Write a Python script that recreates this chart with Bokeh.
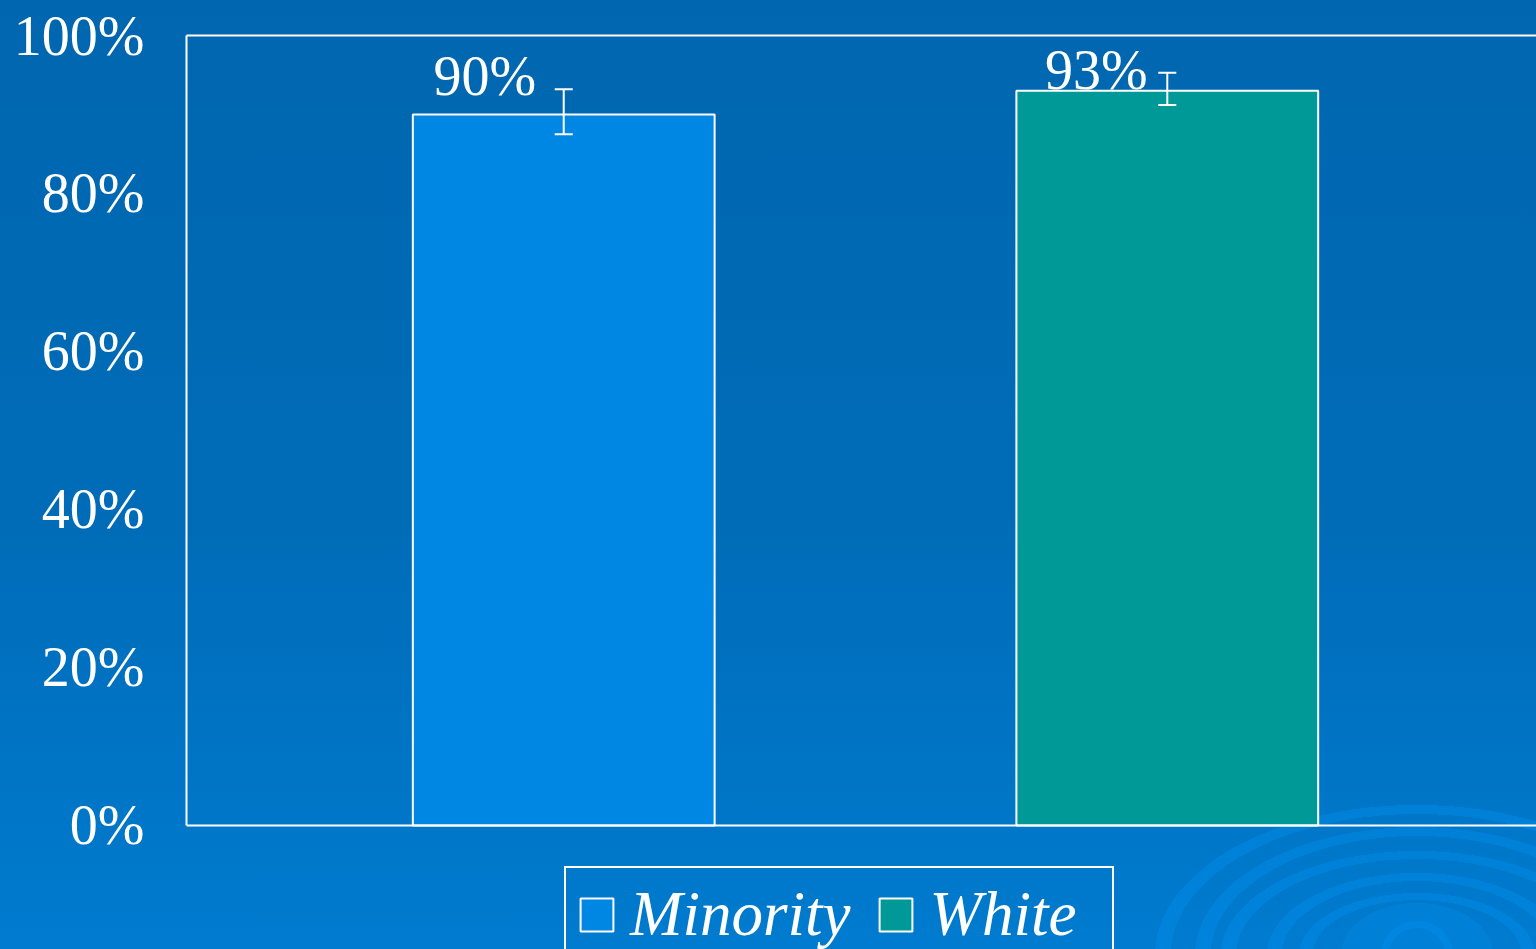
from bokeh.plotting import figure
from bokeh.models import (ColumnDataSource, Range1d, LinearAxis, FixedTicker,
                          NumeralTickFormatter, Whisker, TeeHead, LabelSet,
                          Legend, LegendItem, Span)
from bokeh.core.properties import value
from bokeh.embed import file_html
from bokeh.resources import INLINE

# ---- data -------------------------------------------------------------
groups = ["Minority", "White"]
shares = [0.90, 0.93]
ci_low = [0.875, 0.912]
ci_high = [0.932, 0.953]
bar_colors = ["#0087E3", "#009997"]
y_ticks = [0.0, 0.2, 0.4, 0.6, 0.8, 1.0]

# ---- styling ----------------------------------------------------------
FONT = "Liberation Serif"
WHITE = "#FFFFFF"
BAR_W = 1 / 4.5                    # one cluster spans 0..1
label_dx = [-79, -71]              # value-label nudges (px)
label_dy = [19, 2]

# bar centres: dodge each series around the cluster centre
xs = [0.5 + (i - (len(groups) - 1) / 2) * 2 * BAR_W for i in range(len(groups))]

# page background: blue gradient with a soft ripple in the lower right
ring_col = "rgba(0,142,236,0.42)"
rings = [(262, 150, 9), (222, 128, 9), (196, 104, 8), (150, 82, 8),
         (118, 62, 7), (36, 34, 7)]
layers = []
for rx, ry, t in rings:
    a = 100 * (ry - t) / ry
    layers.append(
        f"radial-gradient(ellipse {rx}px {ry}px at 1417px 955px, "
        f"transparent {a:.1f}%, {ring_col} {a:.1f}%, {ring_col} 100%, transparent 100%)")
layers.append("radial-gradient(ellipse 76px 52px at 1417px 955px, "
              "rgba(0,142,236,0.30) 100%, transparent 100%)")
layers.append("linear-gradient(180deg, #0066AF 0%, #006CB8 55%, #007BCF 100%)")

# the frame runs down to the page bottom so the legend can sit inside it;
# the value axis starts below zero to leave room for it
p = figure(width=1536, height=949, output_backend="svg", toolbar_location=None,
           x_range=Range1d(0, 0.9941), y_range=Range1d(-0.157, 1),
           x_axis_type=None, y_axis_type=None,
           min_border_left=186, min_border_right=0,
           min_border_top=35, min_border_bottom=0)
p.styles = {"background": ", ".join(layers)}
p.background_fill_alpha = 0
p.border_fill_alpha = 0
p.outline_line_color = None
p.xgrid.visible = False
p.ygrid.visible = False

# axes: left with percent labels (line only over 0..100%), top as frame line
yaxis = LinearAxis(ticker=FixedTicker(ticks=y_ticks),
                   formatter=NumeralTickFormatter(format="0%"), bounds=(0, 1))
yaxis.axis_line_color = WHITE
yaxis.axis_line_width = 2
yaxis.major_tick_line_color = None
yaxis.minor_tick_line_color = None
yaxis.major_label_text_color = WHITE
yaxis.major_label_text_font = FONT
yaxis.major_label_text_font_size = "56px"
yaxis.major_label_standoff = 36
p.add_layout(yaxis, "left")

top_axis = LinearAxis(ticker=FixedTicker(ticks=[]))
top_axis.axis_line_color = WHITE
top_axis.axis_line_width = 2
top_axis.major_tick_line_color = None
top_axis.minor_tick_line_color = None
top_axis.major_label_text_font_size = "0px"
p.add_layout(top_axis, "above")

# baseline at 0%
p.add_layout(Span(location=0, dimension="width", line_color=WHITE, line_width=2))

# bars
items = []
for i, g in enumerate(groups):
    src = ColumnDataSource(dict(x=[xs[i]], top=[shares[i]]))
    r = p.vbar(x="x", top="top", bottom=0, width=BAR_W, source=src,
               fill_color=bar_colors[i], line_color=WHITE, line_width=2)
    items.append(LegendItem(label=g, renderers=[r]))

# error bars
err = ColumnDataSource(dict(x=xs, lower=ci_low, upper=ci_high))
p.add_layout(Whisker(base="x", lower="lower", upper="upper", source=err,
                     level="overlay", line_color=WHITE, line_width=2,
                     upper_head=TeeHead(size=18, line_color=WHITE, line_width=2),
                     lower_head=TeeHead(size=18, line_color=WHITE, line_width=2)))

# value labels
lab = ColumnDataSource(dict(x=xs, y=shares,
                            text=[f"{v:.0%}" for v in shares],
                            dx=label_dx, dy=label_dy))
p.add_layout(LabelSet(x="x", y="y", text="text", source=lab,
                      x_offset="dx", y_offset="dy",
                      text_align="center", text_baseline="alphabetic",
                      text_color=WHITE, text_font=value(FONT),
                      text_font_size=value("56px")))

# legend under the baseline
legend = Legend(items=items, orientation="horizontal", location=(378, -14))
legend.background_fill_alpha = 0
legend.border_line_color = WHITE
legend.border_line_width = 2
legend.border_line_alpha = 1
legend.padding = 10
legend.margin = 0
legend.spacing = 25
legend.glyph_width = 41
legend.glyph_height = 41
legend.label_standoff = 13
legend.label_width = 173
legend.label_text_font = FONT
legend.label_text_font_style = "italic"
legend.label_text_font_size = "63px"
legend.label_text_line_height = 1.0
legend.label_text_color = WHITE
p.add_layout(legend, "center")

open("out.html", "w").write(file_html(p, INLINE))
